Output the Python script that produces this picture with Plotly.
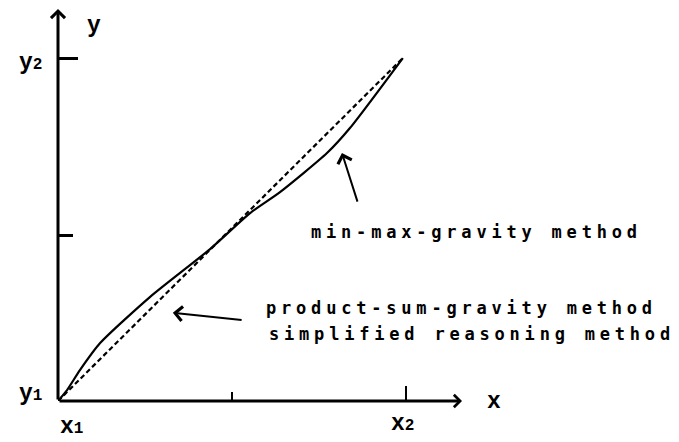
import plotly.graph_objects as go

# ---- data (x1 -> 0, x2 -> 1 ; y1 -> 0, y2 -> 1) ----
minmax_x = [0.0, 0.026, 0.063, 0.121, 0.264, 0.437, 0.552, 0.638, 0.773, 0.839, 0.991]
minmax_y = [0.0, 0.032, 0.090, 0.169, 0.303, 0.443, 0.548, 0.609, 0.723, 0.796, 1.0]
linear_x = [0.0, 0.991]
linear_y = [0.0, 1.0]

x_tick_vals = [1.0]
x_minor_vals = [0.5]
y_tick_vals = [1.0]
y_minor_vals = [0.482]

x_tick_labels = ["x<span style='font-size:16px'>1</span>", "x<span style='font-size:16px'>2</span>"]
y_tick_labels = ["y<span style='font-size:16px'>1</span>", "y<span style='font-size:16px'>2</span>"]
axis_names = ["x", "y"]
curve_labels = ["min-max-gravity method", "product-sum-gravity method", "simplified reasoning method"]

X_END = 1.161
Y_END = 1.143

fig = go.Figure()
fig.add_trace(go.Scatter(x=linear_x, y=linear_y, mode="lines",
                         line=dict(color="black", width=2.2, dash="5px,3px"),
                         hoverinfo="skip", showlegend=False))
fig.add_trace(go.Scatter(x=minmax_x, y=minmax_y, mode="lines",
                         line=dict(color="black", width=2.2, shape="spline", smoothing=0.6),
                         hoverinfo="skip", showlegend=False))

ann = []
# axes drawn as arrows
ann.append(dict(x=X_END, y=0, ax=0, ay=0, xref="x", yref="y", axref="x", ayref="y",
                text="", showarrow=True, arrowhead=4, arrowwidth=3, arrowsize=0.8,
                arrowcolor="black", standoff=0, startstandoff=0))
ann.append(dict(x=0, y=Y_END, ax=0, ay=0, xref="x", yref="y", axref="x", ayref="y",
                text="", showarrow=True, arrowhead=4, arrowwidth=3, arrowsize=0.9,
                arrowcolor="black", standoff=0, startstandoff=0))

lab_font = dict(family="Liberation Mono", size=23, color="black", weight="bold")
# tick labels
ann.append(dict(x=0, y=0, xref="x", yref="y", text=x_tick_labels[0], showarrow=False,
                xanchor="left", yanchor="middle", xshift=0, yshift=-26, font=lab_font))
ann.append(dict(x=1, y=0, xref="x", yref="y", text=x_tick_labels[1], showarrow=False,
                xanchor="center", yanchor="middle", xshift=-3, yshift=-23, font=lab_font))
ann.append(dict(x=0, y=0, xref="x", yref="y", text=y_tick_labels[0], showarrow=False,
                xanchor="right", yanchor="middle", xshift=-14, yshift=7, font=lab_font))
ann.append(dict(x=0, y=1, xref="x", yref="y", text=y_tick_labels[1], showarrow=False,
                xanchor="right", yanchor="middle", xshift=-14, yshift=-5, font=lab_font))
# axis names
ann.append(dict(x=X_END, y=0, xref="x", yref="y", text=axis_names[0], showarrow=False,
                xanchor="left", yanchor="middle", xshift=23, yshift=-1, font=lab_font))
ann.append(dict(x=0, y=Y_END, xref="x", yref="y", text=axis_names[1], showarrow=False,
                xanchor="left", yanchor="middle", xshift=27, yshift=-17, font=lab_font))

txt_font = dict(family="DejaVu Sans Mono", size=17, color="black", weight="bold")
ann.append(dict(x=0.730, y=0.493, xref="x", yref="y", text=curve_labels[0], showarrow=False,
                xanchor="left", yanchor="middle", align="left", width=420, xshift=-3,
                font=txt_font))
ann.append(dict(x=0.601, y=0.274, xref="x", yref="y", text=curve_labels[1], showarrow=False,
                xanchor="left", yanchor="middle", align="left", width=420, xshift=-3, yshift=-1,
                font=txt_font))
ann.append(dict(x=0.609, y=0.198, xref="x", yref="y", text=curve_labels[2], showarrow=False,
                xanchor="left", yanchor="middle", align="left", width=420, xshift=-3, yshift=-1,
                font=txt_font))

# pointer arrows
ann.append(dict(x=0.816, y=0.723, ax=0.862, ay=0.577, xref="x", yref="y", axref="x", ayref="y",
                text="", showarrow=True, arrowhead=4, arrowwidth=2, arrowsize=1.4,
                arrowcolor="black", standoff=0))
ann.append(dict(x=0.330, y=0.257, ax=0.532, ay=0.236, xref="x", yref="y", axref="x", ayref="y",
                text="", showarrow=True, arrowhead=4, arrowwidth=2, arrowsize=1.4,
                arrowcolor="black", standoff=0))

fig.update_layout(
    width=679, height=442,
    margin=dict(l=58, r=217, t=9, b=41),
    paper_bgcolor="white", plot_bgcolor="white",
    annotations=ann,
    xaxis=dict(range=[0, X_END], showgrid=False, zeroline=False, showline=False,
               tickvals=x_tick_vals, ticks="inside", ticklen=15, tickwidth=2, tickcolor="black",
               showticklabels=False,
               minor=dict(tickvals=x_minor_vals, ticks="inside", ticklen=9, tickwidth=2,
                          tickcolor="black", showgrid=False)),
    yaxis=dict(range=[0, Y_END], showgrid=False, zeroline=False, showline=False,
               tickvals=y_tick_vals, ticks="inside", ticklen=20, tickwidth=2.5, tickcolor="black",
               showticklabels=False,
               minor=dict(tickvals=y_minor_vals, ticks="inside", ticklen=15, tickwidth=2.5,
                          tickcolor="black", showgrid=False)),
)

post = """
document.body.style.margin = '0';
document.body.style.overflow = 'hidden';
var gd = document.getElementById('{plot_id}');
function spread(){
  gd.querySelectorAll('.annotation-text').forEach(function(t){
    if (t.textContent.indexOf('method') >= 0) { t.style.letterSpacing = '4.8px'; }
  });
}
spread();
if (gd.on) { gd.on('plotly_afterplot', spread); }
"""

fig.write_html("out.html", post_script=post, config={"displayModeBar": False})
